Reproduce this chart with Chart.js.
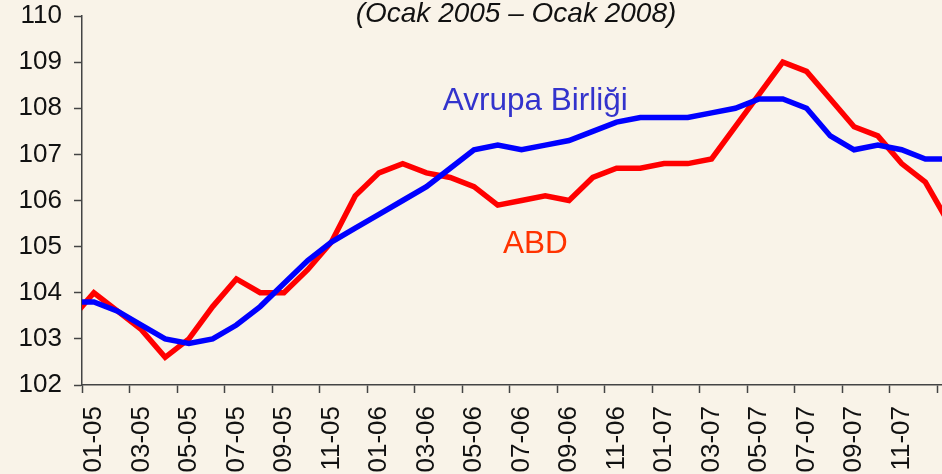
<!DOCTYPE html>
<html lang="tr">
<head>
<meta charset="UTF-8">
<title>Avrupa Birliği - ABD</title>
<script src="https://cdn.jsdelivr.net/npm/chart.js"></script>
<style>
  html, body { margin: 0; padding: 0; background: #f9f3e8; overflow: hidden; }
  canvas { display: block; }
</style>
</head>
<body>
<canvas id="chart" width="942" height="474"></canvas>
<script>
// months, starting one month before the first label (line enters from the axis)
const months = ['12-04',
  '01-05','02-05','03-05','04-05','05-05','06-05','07-05','08-05','09-05','10-05','11-05','12-05',
  '01-06','02-06','03-06','04-06','05-06','06-06','07-06','08-06','09-06','10-06','11-06','12-06',
  '01-07','02-07','03-07','04-07','05-07','06-07','07-07','08-07','09-07','10-07','11-07','12-07',
  '01-08']
const avrupa = [103.8,
  103.8,103.6,103.3,103.0,102.9,103.0,103.3,103.7,104.2,104.7,105.1,105.4,
  105.7,106.0,106.3,106.7,107.1,107.2,107.1,107.2,107.3,107.5,107.7,107.8,
  107.8,107.8,107.9,108.0,108.2,108.2,108.0,107.4,107.1,107.2,107.1,106.9,
  106.9]
const abd = [103.4,
  104.0,103.6,103.2,102.6,103.0,103.7,104.3,104.0,104.0,104.5,105.1,106.1,
  106.6,106.8,106.6,106.5,106.3,105.9,106.0,106.1,106.0,106.5,106.7,106.7,
  106.8,106.8,106.9,107.6,108.3,109.0,108.8,108.2,107.6,107.4,106.8,106.4,
  105.5]
const yTicks = [102,103,104,105,106,107,108,109,110]

const font = 'Liberation Sans, Arial, sans-serif'
const toPoints = arr => arr.map((v,i) => ({x: i - 1, y: v}))

const textPlugin = {
  id: 'texts',
  beforeDraw(chart){
    const c = chart.ctx
    c.save()
    c.fillStyle = '#f9f3e8'
    c.fillRect(0, 0, chart.width, chart.height)
    c.restore()
  },
  afterDatasetsDraw(chart){
    const c = chart.ctx
    const {x, y} = chart.scales
    c.save()
    c.textBaseline = 'alphabetic'
    c.font = 'italic 28px ' + font
    c.fillStyle = '#111'
    c.textAlign = 'center'
    c.fillText('(Ocak 2005 – Ocak 2008)', 516, 22)
    c.textAlign = 'left'
    c.font = '31.5px ' + font
    c.fillStyle = '#3333cc'
    c.fillText('Avrupa Birliği', x.getPixelForValue(14.69), y.getPixelForValue(107.96))
    c.fillStyle = '#ff3300'
    c.fillText('ABD', x.getPixelForValue(17.22), y.getPixelForValue(104.86))
    c.restore()
  }
}

new Chart(document.getElementById('chart').getContext('2d'), {
  type: 'line',
  data: {
    datasets: [
      {label: 'Avrupa Birliği', data: toPoints(avrupa), borderColor: '#0000ff', borderWidth: 5.5,
       pointRadius: 0, tension: 0, fill: false, clip: 0},
      {label: 'ABD', data: toPoints(abd), borderColor: '#ff0000', borderWidth: 5.5,
       pointRadius: 0, tension: 0, fill: false, clip: 0}
    ]
  },
  options: {
    responsive: false,
    animation: false,
    layout: {padding: {top: 16, right: 0, left: 0, bottom: 0}},
    plugins: {legend: {display: false}, tooltip: {enabled: false}},
    scales: {
      x: {
        type: 'linear', min: -0.5, max: 35.7,
        afterBuildTicks: s => {
          const t = []
          for (let i = 1; i < months.length - 1; i += 2) {
            t.push({value: i - 1.5})
            t.push({value: i - 1})
          }
          t.push({value: months.length - 2.5})
          s.ticks = t
        },
        afterFit: s => { s.height = 89; s.paddingLeft = 0; s.paddingRight = 0 },
        ticks: {
          autoSkip: false, minRotation: 90, maxRotation: 90, padding: 13,
          color: '#111', font: {family: font, size: 26},
          callback: v => Number.isInteger(v) ? months[v + 1] : ''
        },
        grid: {
          drawOnChartArea: false, drawTicks: true, tickLength: 8, tickWidth: 1.5,
          tickColor: ctx => (ctx.tick && Number.isInteger(ctx.tick.value)) ? 'rgba(0,0,0,0)' : '#444'
        },
        border: {display: true, color: '#444', width: 1.5}
      },
      y: {
        min: 102, max: 110,
        afterBuildTicks: s => { s.ticks = yTicks.map(v => ({value: v})) },
        afterFit: s => { s.width = 82; s.paddingTop = 0; s.paddingBottom = 0 },
        ticks: {padding: 12, color: '#111', font: {family: font, size: 26}},
        grid: {drawOnChartArea: false, drawTicks: true, tickLength: 8, tickWidth: 1.5, tickColor: '#444'},
        border: {display: true, color: '#444', width: 1.5}
      }
    }
  },
  plugins: [textPlugin]
})
</script>
</body>
</html>
